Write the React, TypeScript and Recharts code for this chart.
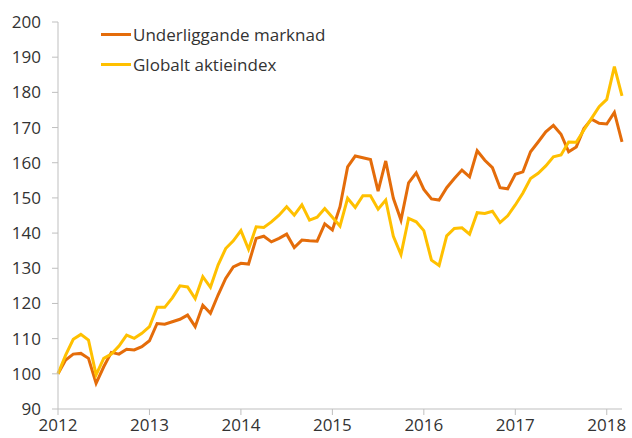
import React from 'react';
import { LineChart, Line, XAxis, YAxis } from 'recharts';

// månadsdata jan 2012 - mar 2018, index 100 = jan 2012
const underliggande = [
  100, 103.9, 105.6, 105.8, 104.4, 97.3, 102.0, 106.1, 105.6, 107.0, 106.8, 107.7,
  109.4, 114.3, 114.1, 114.8, 115.5, 116.7, 113.4, 119.5, 117.2, 122.4, 127.1, 130.4,
  131.4, 131.2, 138.5, 139.1, 137.5, 138.5, 139.7, 135.9, 138.0, 137.8, 137.7, 142.6,
  140.9, 147.5, 158.8, 161.9, 161.4, 160.9, 151.9, 160.5, 149.9, 143.7, 154.3, 157.1,
  152.4, 149.7, 149.4, 152.9, 155.5, 157.9, 156.0, 163.4, 160.7, 158.6, 152.9, 152.6,
  156.7, 157.4, 163.1, 165.9, 168.8, 170.6, 168.1, 163.1, 164.5, 169.7, 172.4, 171.2,
  171.0, 174.3, 165.9,
];

const globalt = [
  100, 105.3, 109.8, 111.2, 109.6, 99.7, 104.4, 105.6, 107.9, 111.0, 110.1, 111.5,
  113.4, 118.9, 118.9, 121.6, 125.0, 124.7, 121.4, 127.6, 124.6, 130.9, 135.6, 137.8,
  140.7, 135.4, 141.8, 141.6, 143.2, 145.1, 147.5, 145.1, 148.0, 143.7, 144.5, 147.0,
  144.5, 142.0, 149.9, 147.3, 150.6, 150.6, 146.8, 149.4, 139.1, 133.9, 144.2, 143.2,
  140.7, 132.3, 130.8, 139.2, 141.3, 141.5, 139.7, 145.8, 145.6, 146.2, 143.0, 144.9,
  148.0, 151.4, 155.5, 157.0, 159.1, 161.7, 162.2, 165.9, 165.8, 169.3, 172.6, 175.9,
  178.0, 187.3, 179.0,
];

const years = [2012, 2013, 2014, 2015, 2016, 2017, 2018];
const yTicks = [90, 100, 110, 120, 130, 140, 150, 160, 170, 180, 190, 200];

const ORANGE = '#E46C0A';
const YELLOW = '#FFC000';
const TEXT = '#333333';
const AXIS = '#BFBFBF';
const FONT = '"Open Sans", sans-serif';

const series = [
  { key: 'u', name: 'Underliggande marknad', color: ORANGE },
  { key: 'g', name: 'Globalt aktieindex', color: YELLOW },
];

const data = underliggande.map((v, i) => ({ i, u: v, g: globalt[i] }));

export default function App() {
  return (
    <div style={{ position: 'fixed', left: 0, top: 0, width: 632, height: 438, background: '#fff' }}>
      <LineChart width={632} height={438} data={data} margin={{ top: 22, right: 10, bottom: 0, left: 0 }}>
        <XAxis
          dataKey="i"
          type="number"
          domain={[0, 74]}
          ticks={years.map((_, k) => k * 12)}
          tickFormatter={(v: number) => String(years[v / 12])}
          height={29}
          stroke={AXIS}
          tickSize={6}
          tickMargin={4}
          tick={{ fill: TEXT, fontSize: 17, fontFamily: FONT }}
        />
        <YAxis
          domain={[90, 200]}
          ticks={yTicks}
          width={58}
          stroke={AXIS}
          tickSize={6}
          tickMargin={11}
          interval={0}
          tick={{ fill: TEXT, fontSize: 17, fontFamily: FONT }}
        />
        {series.map((s) => (
          <Line
            key={s.key}
            dataKey={s.key}
            name={s.name}
            stroke={s.color}
            strokeWidth={3}
            dot={false}
            isAnimationActive={false}
          />
        ))}
      </LineChart>
      <div style={{ position: 'absolute', left: 101, top: 19 }}>
        {series.map((s) => (
          <div key={s.key} style={{ display: 'flex', alignItems: 'center', height: 30 }}>
            <div style={{ width: 30, height: 3, background: s.color }} />
            <span style={{ marginLeft: 2, fontSize: 17, color: TEXT, fontFamily: FONT }}>{s.name}</span>
          </div>
        ))}
      </div>
    </div>
  );
}
